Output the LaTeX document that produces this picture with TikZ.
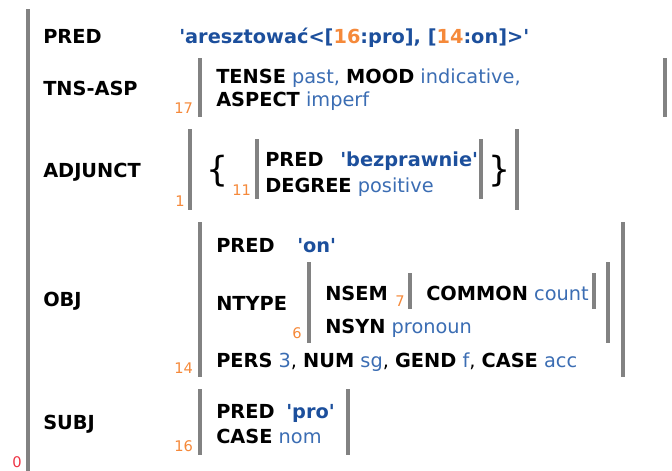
\documentclass[tikz,border=0pt]{standalone}
\usepackage{fontspec}
\setmainfont{DejaVu Sans}[Ligatures=TeXOff]
\usepackage{xcolor}
\definecolor{valblue}{HTML}{3B6DB3}
\definecolor{predblue}{HTML}{1C4F9C}
\definecolor{idxorange}{HTML}{F5893A}
\definecolor{rootred}{HTML}{EE3344}
\definecolor{bargray}{HTML}{828282}
\newcommand{\ft}[1]{\textbf{#1}}
\newcommand{\vl}[1]{\textcolor{valblue}{#1}}
\newcommand{\pv}[1]{\textcolor{predblue}{\textbf{#1}}}
\newcommand{\ix}[1]{\textcolor{idxorange}{\textbf{#1}}}

\begin{document}
\begin{tikzpicture}[x=0.75pt, y=-0.75pt,
  every node/.style={inner sep=0pt, anchor=base west, font=\fontsize{14.5}{17}\selectfont},
  idx/.style={font=\fontsize{11}{13}\selectfont, text=idxorange},
  bar/.style={bargray, line width=2.8pt}]
  \useasboundingbox (0,0) rectangle (672,471);
  % outer f-structure
  \draw[bar] (28,9) -- (28,471);
  \node[font=\fontsize{11}{13}\selectfont, text=rootred] (n0) at (12,467) {0};
  \node (lpred) at (43,43) {\ft{PRED}};
  \node (vpred) at (179,43) {\pv{'aresztować<[}\ix{16}\pv{:pro], [}\ix{14}\pv{:on]>'}};
  % TNS-ASP
  \node (ltns) at (43,95) {\ft{TNS-ASP}};
  \draw[bar] (200,58) -- (200,117);
  \draw[bar] (665,58) -- (665,117);
  \node[idx] (n17) at (174,113) {17};
  \node (tns1) at (216,83) {\ft{TENSE} \vl{past,} \ft{MOOD} \vl{indicative,}};
  \node (tns2) at (216,106) {\ft{ASPECT} \vl{imperf}};
  % ADJUNCT
  \node (ladj) at (43,177) {\ft{ADJUNCT}};
  \draw[bar] (190,129) -- (190,210);
  \draw[bar] (517,129) -- (517,210);
  \node[idx] (n1) at (175,206) {1};
  \node[font=\fontsize{26}{26}\selectfont] (lbrace) at (206,181) {\{};
  \node[font=\fontsize{26}{26}\selectfont] (rbrace) at (488,181) {\}};
  \node[idx] (n11) at (232,195) {11};
  \draw[bar] (257,139) -- (257,199);
  \draw[bar] (481,139) -- (481,199);
  \node (adj1) at (265,166) {\ft{PRED}};
  \node (adj1v) at (340,166) {\pv{'bezprawnie'}};
  \node (adj2) at (265,192) {\ft{DEGREE} \vl{positive}};
  % OBJ
  \node (lobj) at (43,306) {\ft{OBJ}};
  \draw[bar] (200,222) -- (200,377);
  \draw[bar] (623,222) -- (623,377);
  \node[idx] (n14) at (174,373) {14};
  \node (obj1) at (216,252) {\ft{PRED}};
  \node (obj1v) at (297,252) {\pv{'on'}};
  \node (ntype) at (216,310) {\ft{NTYPE}};
  \draw[bar] (309,262) -- (309,343);
  \draw[bar] (608,262) -- (608,343);
  \node[idx] (n6) at (292,338) {6};
  \node (nsem) at (325,300) {\ft{NSEM}};
  \node[idx] (n7) at (395,306) {7};
  \draw[bar] (410,273) -- (410,309);
  \draw[bar] (594,273) -- (594,309);
  \node (common) at (426,300) {\ft{COMMON} \vl{count}};
  \node (nsyn) at (325,333) {\ft{NSYN} \vl{pronoun}};
  \node (obj3) at (216,367) {\ft{PERS} \vl{3}, \ft{NUM} \vl{sg}, \ft{GEND} \vl{f}, \ft{CASE} \vl{acc}};
  % SUBJ
  \node (lsubj) at (43,429) {\ft{SUBJ}};
  \draw[bar] (200,389) -- (200,455);
  \draw[bar] (348,389) -- (348,455);
  \node[idx] (n16) at (174,451) {16};
  \node (subj1) at (216,418) {\ft{PRED}};
  \node (subj1v) at (286,418) {\pv{'pro'}};
  \node (subj2) at (216,443) {\ft{CASE} \vl{nom}};
\end{tikzpicture}
\end{document}
